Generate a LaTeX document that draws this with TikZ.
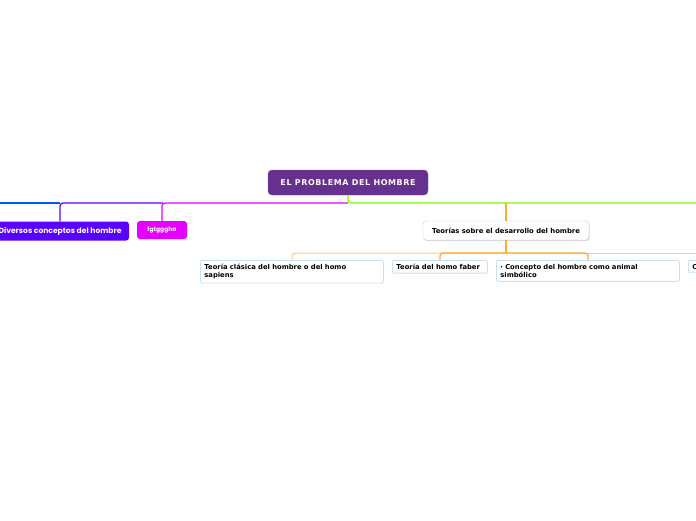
\documentclass[tikz,border=0pt]{standalone}
\usepackage{fontspec}
\setmainfont{DejaVu Sans}
\newfontfamily\verd{DejaVu Sans}
\newfontfamily\rootf[LetterSpace=7]{DejaVu Sans}
\newfontfamily\pop{Poppins}
\usetikzlibrary{shadows}
\definecolor{rootpurple}{HTML}{66308F}
\definecolor{divblue}{HTML}{5A00FF}
\definecolor{leftblue}{HTML}{0055FF}
\definecolor{magen}{HTML}{E600FF}
\definecolor{lgreen}{HTML}{77FF00}
\definecolor{orng}{HTML}{FFAA33}
\definecolor{lorng}{HTML}{FFCC77}
\definecolor{lblue}{HTML}{C8E0F4}
\tikzset{
  rootbox/.style={fill=rootpurple, draw=rootpurple!80!white, rounded corners=4pt, text=white, font=\rootf\bfseries\fontsize{8}{9}\selectfont, minimum width=160pt, minimum height=25pt, inner sep=0pt},
  colbox/.style={fill=#1, rounded corners=3pt, text=white, minimum height=19pt, inner sep=0pt},
  mainbox/.style={fill=white, draw=black!20, rounded corners=3pt, font=\verd\bfseries\fontsize{6.8}{8}\selectfont, minimum width=166pt, minimum height=19pt, inner sep=0pt, drop shadow={shadow xshift=0.6pt, shadow yshift=-0.8pt, opacity=0.35}},
  leafbox/.style={fill=white, draw=lblue, line width=0.8pt, rounded corners=2pt, font=\verd\bfseries\fontsize{6.8}{8.5}\selectfont, align=left, anchor=north west, inner xsep=4pt, inner ysep=3.6pt},
  conn/.style={line width=1.2pt, rounded corners=3pt},
}
\begin{document}
\begin{tikzpicture}[x=1pt,y=-1pt]
\useasboundingbox (0,0) rectangle (696,520);
\clip (0,0) rectangle (696,520);
\fill[white] (0,0) rectangle (696,520);
% hub coordinates
\coordinate (hl) at (0,203);
\coordinate (h60) at (60,203);
\coordinate (h163) at (163,203);
\coordinate (h348) at (348,203);
\coordinate (h506) at (506,203);
\coordinate (hr) at (696,203);
% nodes
\node[rootbox] (root) at (348,182.5) {EL PROBLEMA DEL HOMBRE};
\node[colbox=divblue, minimum width=138pt, font=\pop\bfseries\fontsize{7.6}{9}\selectfont] (div) at (60,231) {Diversos conceptos del hombre};
\node[colbox=magen, minimum width=50pt, minimum height=18pt, font=\pop\bfseries\fontsize{6}{7}\selectfont] (fg) at (162,230) {fgtgggha};
\node[mainbox] (teo) at (506,230.5) {Teorías sobre el desarrollo del hombre};
% connectors of the root
\draw[conn, leftblue] (h60) -- (hl);
\draw[conn, divblue] (h163) -- (60,203) -- (div.north);
\draw[conn, magen] (h348) -- (162,203) -- (fg.north);
\draw[conn, lgreen] (root.south) -- (h348) -- (hr);
\draw[conn, orng] (h506) -- (teo.north);
% connectors of Teorías
\coordinate (t253) at (506,253);
\coordinate (k1) at (292,260);
\coordinate (k2) at (440,260);
\coordinate (k3) at (588,260);
\draw[line width=1pt, lorng, rounded corners=3pt] (t253) -- (292,253) -- (k1);
\draw[line width=1pt, lorng] (t253) -- (696,253);
\draw[line width=1.4pt, orng, rounded corners=3pt] (t253) -- (440,253) -- (k2);
\draw[line width=1.4pt, orng, rounded corners=3pt] (t253) -- (588,253) -- (k3);
\draw[line width=2pt, orng] (teo.south) -- (t253);
% leaf boxes
\node[leafbox, text width=175pt] (c1) at (200,260) {Teoría clásica del hombre o del homo\\sapiens};
\node[leafbox, text width=87pt] (c2) at (392,260) {Teoría del homo faber};
\node[leafbox, text width=175pt] (c3) at (496,260) {· Concepto del hombre como animal\\simbólico};
\node[leafbox, text width=175pt] (c4) at (688,260) {C};
\end{tikzpicture}
\end{document}
